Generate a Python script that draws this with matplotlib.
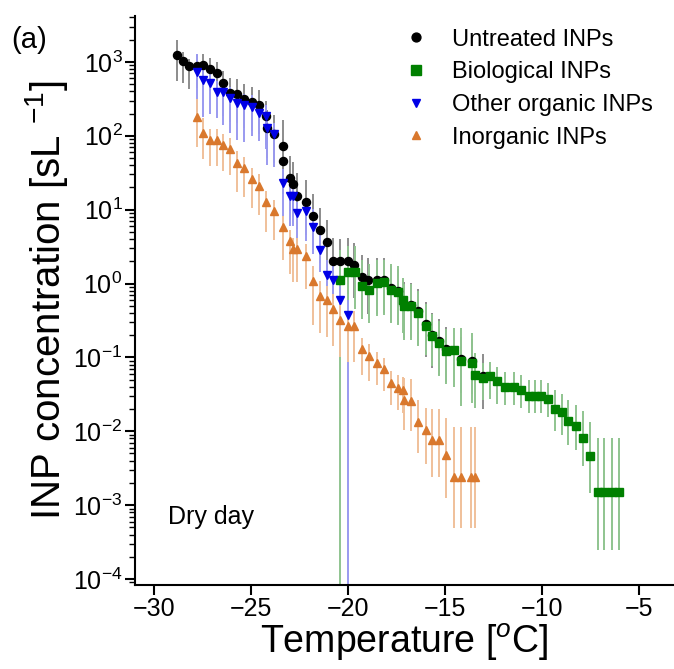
import numpy as np
import matplotlib
matplotlib.use("Agg")
import matplotlib.pyplot as plt

plt.rcParams['font.family'] = ['Liberation Sans', 'DejaVu Sans']
plt.rcParams['mathtext.fontset'] = 'custom'
plt.rcParams['mathtext.rm'] = 'Liberation Sans'
plt.rcParams['mathtext.it'] = 'Liberation Sans:italic'

# Untreated INPs (black)
untreated_t = [-28.85, -28.51, -28.20, -27.81, -27.51, -27.16, -26.78, -26.47, -26.10, -25.72,
               -25.36, -24.98, -24.59, -24.24, -24.21, -23.83, -23.38, -23.38, -23.00, -22.84,
               -22.66, -22.20, -21.84, -21.49, -21.11, -20.80, -20.43, -20.00, -19.69, -19.31,
               -18.97, -18.54, -18.16, -17.80, -17.42, -17.13, -16.78, -16.44, -16.00, -15.70,
               -15.32, -14.96, -14.21, -13.64, -13.07]
untreated_v = [1240, 1030, 870, 890, 910, 800, 710, 515, 385, 370,
               318, 288, 265, 187, 127, 106, 73.5, 46, 26.7, 22.4,
               15.5, 12.6, 8.1, 5.3, 3.66, 2.05, 2.0, 2.05, 1.77, 1.22,
               1.1, 1.1, 1.12, 0.86, 0.8, 0.52, 0.51, 0.42, 0.285, 0.2,
               0.165, 0.13, 0.094, 0.09, 0.056]
untreated_up = [0.2, 0.12, 0.1, 0.15, 0.15, 0.15, 0.15, 0.17, 0.2, 0.2,
                0.2, 0.2, 0.2, 0.2, 0.25, 0.25, 0.35, 0.3, 0.3, 0.3,
                0.3, 0.3, 0.3, 0.3, 0.3, 0.3, 0.3, 0.3, 0.3, 0.3,
                0.3, 0.3, 0.3, 0.3, 0.3, 0.3, 0.3, 0.3, 0.3, 0.3,
                0.3, 0.3, 0.3, 0.3, 0.3]
untreated_dn = [0.35, 0.3, 0.3, 0.3, 0.3, 0.3, 0.3, 0.45, 0.4, 0.4,
                0.4, 0.4, 0.4, 0.4, 0.4, 0.4, 0.4, 0.45, 0.45, 0.45,
                0.45, 0.45, 0.45, 0.45, 0.45, 0.45, 0.45, 0.45, 0.45, 0.45,
                0.45, 0.45, 0.45, 0.45, 0.45, 0.45, 0.45, 0.45, 0.45, 0.45,
                0.45, 0.45, 0.45, 0.45, 0.45]

# Biological INPs (green)
bio_t = [-20.43, -20.02, -19.65, -19.31, -18.93, -18.54, -18.16, -17.80, -17.42, -17.20,
         -17.13, -16.78, -16.44, -16.00, -15.70, -15.32, -14.96, -14.55, -14.21, -13.64,
         -13.47, -13.07, -12.70, -12.32, -11.92, -11.49, -11.10, -10.67, -10.38, -10.08,
         -9.69, -9.35, -8.97, -8.66, -8.26, -7.92, -7.54, -7.16, -6.82, -6.42, -6.08]
bio_v = [1.12, 1.43, 1.43, 0.94, 0.82, 1.03, 1.06, 0.82, 0.765, 0.60,
         0.49, 0.49, 0.40, 0.268, 0.192, 0.156, 0.123, 0.124, 0.088, 0.085,
         0.058, 0.0525, 0.0552, 0.0472, 0.0397, 0.0397, 0.0365, 0.0302, 0.0302, 0.0302,
         0.0275, 0.0201, 0.0180, 0.0139, 0.0119, 0.0081, 0.00467, 0.00149, 0.00149, 0.00149, 0.00149]
bio_up = [0.4, 0.35, 0.35, 0.35, 0.35, 0.3, 0.3, 0.35, 0.35, 0.3,
          0.3, 0.3, 0.3, 0.3, 0.3, 0.3, 0.3, 0.3, 0.45, 0.4,
          0.3, 0.2, 0.2, 0.2, 0.2, 0.2, 0.2, 0.22, 0.22, 0.22,
          0.22, 0.25, 0.25, 0.28, 0.28, 0.37, 0.45, 0.73, 0.73, 0.73, 0.73]
bio_dn = [6, 0.5, 0.5, 0.46, 0.45, 0.45, 0.45, 0.45, 0.45, 0.45,
          0.45, 0.45, 0.45, 0.4, 0.4, 0.45, 0.45, 0.5, 0.6, 0.55,
          0.45, 0.3, 0.3, 0.3, 0.25, 0.25, 0.25, 0.23, 0.23, 0.23,
          0.25, 0.3, 0.3, 0.33, 0.33, 0.38, 0.5, 0.78, 0.78, 0.78, 0.78]

# Other organic INPs (blue)
organic_t = [-27.81, -27.51, -27.16, -26.78, -26.47, -26.10, -25.72, -25.36, -24.98, -24.59,
             -24.24, -24.21, -23.83, -23.38, -23.00, -22.84, -22.66, -22.20, -21.84, -21.49,
             -21.11, -20.80, -20.43, -20.00]
organic_v = [725, 570, 525, 396, 390, 324, 281, 262, 249, 202,
             187, 127, 106, 23.3, 15.1, 15.1, 9.1, 9.6, 5.8, 2.88,
             1.32, 1.10, 0.59, 0.38]
organic_up = [0.25, 0.2, 0.15, 0.15, 0.15, 0.15, 0.15, 0.15, 0.15, 0.15,
              0.15, 0.15, 0.15, 0.18, 0.15, 0.15, 0.15, 0.15, 0.25, 0.2,
              0.2, 0.2, 0.2, 0.2]
organic_dn = [0.65, 0.5, 0.42, 0.36, 0.45, 0.47, 0.5, 0.5, 0.4, 0.37,
              0.45, 0.5, 0.45, 0.46, 0.4, 0.4, 0.46, 0.4, 0.37, 0.3,
              0.4, 0.4, 0.5, 6]

# Inorganic INPs (orange)
inorg_t = [-27.81, -27.51, -27.16, -26.78, -26.47, -26.10, -25.72, -25.36, -24.98, -24.59,
           -24.24, -23.83, -23.38, -23.00, -22.84, -22.66, -22.20, -21.84, -21.49, -21.11,
           -20.80, -20.43, -20.00, -19.69, -19.31, -18.93, -18.54, -18.16, -17.80, -17.42,
           -17.20, -17.13, -16.77, -16.44, -16.01, -15.70, -15.31, -14.98, -14.55, -14.21,
           -13.69, -13.47]
inorg_v = [178, 110, 88, 88, 75, 66.5, 43.4, 37.1, 26.1, 21.2,
           12.6, 9.7, 5.8, 3.78, 2.95, 2.95, 2.39, 1.09, 0.68, 0.59,
           0.45, 0.324, 0.27, 0.27, 0.129, 0.106, 0.084, 0.0695, 0.0457, 0.0385,
           0.0357, 0.0261, 0.0253, 0.0132, 0.0103, 0.0075, 0.0075, 0.0048, 0.00237, 0.00237,
           0.00237, 0.00237]
inorg_up = [0.25, 0.2, 0.15, 0.15, 0.15, 0.15, 0.15, 0.15, 0.15, 0.15,
            0.15, 0.15, 0.15, 0.15, 0.15, 0.15, 0.15, 0.2, 0.2, 0.2,
            0.2, 0.2, 0.2, 0.2, 0.15, 0.15, 0.15, 0.15, 0.15, 0.18,
            0.18, 0.3, 0.3, 0.3, 0.3, 0.42, 0.42, 0.5, 0.68, 0.68,
            0.68, 0.68]
inorg_dn = [0.4, 0.35, 0.35, 0.35, 0.35, 0.35, 0.4, 0.4, 0.4, 0.4,
            0.4, 0.4, 0.45, 0.45, 0.45, 0.45, 0.45, 0.6, 0.5, 0.5,
            0.5, 0.5, 0.5, 0.5, 0.35, 0.35, 0.3, 0.3, 0.3, 0.3,
            0.3, 0.4, 0.4, 0.42, 0.45, 0.5, 0.5, 0.58, 0.68, 0.68,
            0.68, 0.68]


def bars(v, up, dn):
    v = np.array(v)
    lo = v - v * 10.0 ** (-np.array(dn))
    hi = v * 10.0 ** np.array(up) - v
    return [lo, hi]


fig = plt.figure(figsize=(6.74, 6.69), dpi=100)
ax = fig.add_axes([0.2003, 0.1256, 0.7997, 0.8505])

series = [
    (untreated_t, untreated_v, untreated_up, untreated_dn, 'black', '#8c8c8c', 'o', 5.8, 'Untreated INPs'),
    (bio_t, bio_v, bio_up, bio_dn, '#008000', '#8fc48f', 's', 6.2, 'Biological INPs'),
    (organic_t, organic_v, organic_up, organic_dn, '#0000e6', '#9a9af0', 'v', 5.8, 'Other organic INPs'),
    (inorg_t, inorg_v, inorg_up, inorg_dn, '#d9782d', '#f0c09a', '^', 5.8, 'Inorganic INPs'),
]

for t, v, up, dn, col, ecol, mk, ms, lab in series:
    ax.errorbar(t, v, yerr=bars(v, up, dn), fmt='none', ecolor=ecol, elinewidth=1.4, zorder=1)

for z, (t, v, up, dn, col, ecol, mk, ms, lab) in enumerate(series):
    ax.plot(t, v, linestyle='none', marker=mk, ms=ms, color=col, label=lab, zorder=3 + z)

ax.set_yscale('log')
ax.set_xlim(-31.0, -3.22)
ax.set_ylim(10 ** -4.081, 10 ** 3.622)
ax.set_xticks([-30, -25, -20, -15, -10, -5])
ax.set_xticklabels(['\u221230', '\u221225', '\u221220', '\u221215', '\u221210', '\u22125'])
ax.set_yticks([10.0 ** k for k in range(-4, 4)])
ax.yaxis.set_minor_locator(matplotlib.ticker.LogLocator(base=10, subs=np.arange(2, 10)))
ax.yaxis.set_minor_formatter(matplotlib.ticker.NullFormatter())

for s in ['top', 'right']:
    ax.spines[s].set_visible(False)
for s in ['left', 'bottom']:
    ax.spines[s].set_linewidth(1.5)

ax.tick_params(axis='both', which='major', direction='out', length=7, width=1.5, labelsize=18, pad=2)
ax.tick_params(axis='y', which='minor', direction='out', length=4, width=1.0)

ax.set_xlabel('Temperature [$^{o}$C]', fontsize=27, labelpad=0)
ax.set_ylabel('INP concentration [sL $^{\u22121}$]', fontsize=29, labelpad=2)

ax.text(-29.3, 7e-4, 'Dry day', fontsize=18, va='center')
fig.text(0.016, 0.928, '(a)', fontsize=21)

ax.legend(loc='upper right', bbox_to_anchor=(1.0, 1.015), frameon=False, fontsize=17,
          handletextpad=0.7, labelspacing=0.45, markerscale=1.1, handlelength=1.6)

fig.savefig('out.png', dpi=100)
